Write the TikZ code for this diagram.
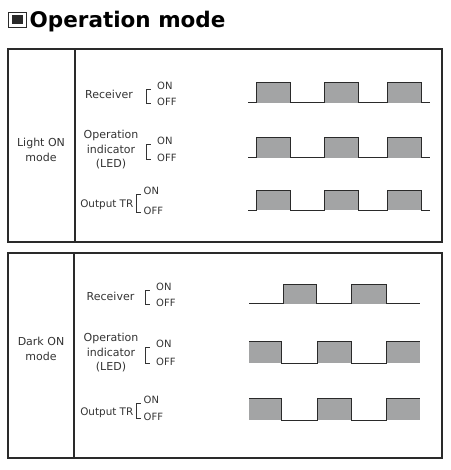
\documentclass[tikz,border=0pt]{standalone}
\usepackage{fontspec}
\setmainfont{DejaVu Sans}
\definecolor{ink}{HTML}{2A2A2A}
\definecolor{txt}{HTML}{333333}
\definecolor{wfill}{HTML}{A3A4A5}
\tikzset{
  frame/.style={draw=ink, line width=1.2pt},
  wave/.style={draw=ink, line width=1pt},
  wfil/.style={fill=wfill},
  lbl/.style={text=txt, font=\fontsize{11}{14.5}\selectfont, align=center, inner sep=0pt},
  outlbl/.style={text=txt, font=\fontsize{10.4}{14}\selectfont, inner sep=0pt, anchor=east},
  onoff/.style={text=txt, font=\fontsize{10}{12}\selectfont, inner sep=0pt, anchor=west},
  brk/.style={draw=txt, line width=0.8pt},
}
\begin{document}
\begin{tikzpicture}[x=1pt,y=-1pt]
\useasboundingbox (0,0) rectangle (450,470);
% title
\draw[draw=ink, line width=0.6pt] (8.5,12) rectangle (26.5,27.5);
\fill[ink] (12,15.5) rectangle (23,24);
\node[anchor=base west, inner sep=0pt, font=\fontsize{21.5}{26}\bfseries\selectfont, text=black] (title) at (29.5,27.5) {Operation mode};
% panels
\draw[frame] (8,49) rectangle (442,242);
\draw[frame] (75,49) -- (75,242);
\draw[frame] (8,253) rectangle (442,458);
\draw[frame] (74,253) -- (74,458);
% mode labels
\node[lbl] (m1) at (41,150) {Light ON\\mode};
\node[lbl] (m2) at (41,349) {Dark ON\\mode};
% signal labels panel 1
\node[lbl] (r1) at (109,94) {Receiver};
\node[lbl] (o1) at (111,150) {Operation\\indicator\\(LED)};
\node[outlbl] (t1) at (133.5,205) {Output TR};
% signal labels panel 2
\node[lbl] (r2) at (110.5,296) {Receiver};
\node[lbl] (o2) at (111,353) {Operation\\indicator\\(LED)};
\node[outlbl] (t2) at (133.5,413) {Output TR};
% brackets and ON/OFF
\newcommand\onoffbr[4]{% x, ytop, ybot, textx
  \draw[brk] (#1+4,#2) -- (#1,#2) -- (#1,#3) -- (#1+4,#3);
  \node[onoff] at (#4,#2-3) {ON};
  \node[onoff] at (#4,#3-1.5) {OFF};
}
\onoffbr{146.5}{89}{103.5}{157}
\onoffbr{146.5}{144}{159}{157}
\onoffbr{136.5}{194}{212}{143.5}
\onoffbr{145.5}{290}{304}{156}
\onoffbr{145.5}{347}{363.5}{156}
\onoffbr{136.5}{403}{418}{143.5}
% Light ON waves
\foreach \b/\t in {102.7/82.7, 157.7/137.7, 210/190}{
  \fill[wfil] (256,\t) rectangle (290.7,\b);
  \fill[wfil] (324,\t) rectangle (358,\b);
  \fill[wfil] (387.7,\t) rectangle (421.7,\b);
  \draw[wave] (248,\b) -- (256,\b) -- (256,\t) -- (290.7,\t) -- (290.7,\b) -- (324,\b) -- (324,\t) -- (358,\t) -- (358,\b) -- (387.7,\b) -- (387.7,\t) -- (421.7,\t) -- (421.7,\b) -- (430,\b);
}
% Dark ON receiver
\fill[wfil] (283.3,284) rectangle (316.7,303.7);
\fill[wfil] (351.7,284) rectangle (386,303.7);
\draw[wave] (249,303.7) -- (283.3,303.7) -- (283.3,284) -- (316.7,284) -- (316.7,303.7) -- (351.7,303.7) -- (351.7,284) -- (386,284) -- (386,303.7) -- (420,303.7);
% Dark ON outputs
\foreach \b/\t in {363.3/341.7, 420/398.3}{
  \fill[wfil] (249,\t) rectangle (281.7,\b);
  \fill[wfil] (317.7,\t) rectangle (351.7,\b);
  \fill[wfil] (386,\t) rectangle (420,\b);
  \draw[wave] (249,\t) -- (281.7,\t) -- (281.7,\b) -- (317.7,\b) -- (317.7,\t) -- (351.7,\t) -- (351.7,\b) -- (386,\b) -- (386,\t) -- (420,\t);
}
\end{tikzpicture}
\end{document}
